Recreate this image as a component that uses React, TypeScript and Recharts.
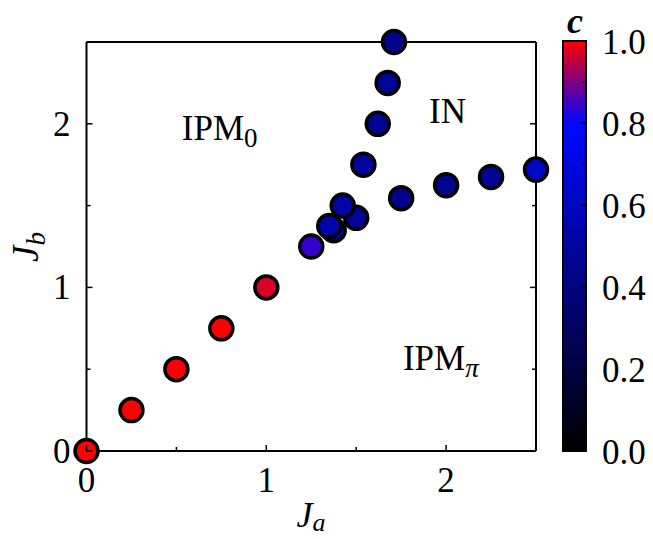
import React from "react";
import { ScatterChart, Scatter, XAxis, YAxis, ReferenceDot } from "recharts";

// phase points: J_a, J_b and the colour value c
const jaValues = [0, 0.25, 0.5, 0.75, 1, 1.25, 1.375, 1.35, 1.5, 1.425, 1.54, 1.62, 1.675, 1.71, 1.75, 2, 2.25, 2.5];
const jbValues = [0, 0.25, 0.5, 0.75, 1, 1.25, 1.35, 1.375, 1.425, 1.5, 1.75, 2, 2.25, 2.5, 1.545, 1.625, 1.675, 1.72];
const cValues = [1, 1, 1, 1, 0.97, 0.84, 0.52, 0.53, 0.48, 0.52, 0.5, 0.46, 0.46, 0.44, 0.44, 0.45, 0.47, 0.62];

const axisTicks = [0, 0.5, 1, 1.5, 2, 2.5];
const barTicks = [0, 0.1, 0.2, 0.3, 0.4, 0.5, 0.6, 0.7, 0.8, 0.9, 1];
const barLabels = ["0.0", "0.2", "0.4", "0.6", "0.8", "1.0"];

const data = jaValues.map((ja, i) => ({ ja, jb: jbValues[i], c: cValues[i] }));

const FONT = "Liberation Serif, DejaVu Serif, serif";
const W = 653;
const H = 539;

// black -> blue (0.8) -> red
function cmap(c: number) {
  if (c <= 0.8) return `rgb(0,${Math.round(10 * c)},${Math.round((255 * c) / 0.8)})`;
  const t = (c - 0.8) / 0.2;
  return `rgb(${Math.round(255 * t)},0,${Math.round(255 * (1 - t))})`;
}

const Dot = (props: any) => {
  const { cx, cy, payload } = props;
  return <circle cx={cx} cy={cy} r={11.5} fill={cmap(payload.c)} stroke="#000" strokeWidth={3.5} />;
};

const isMajor = (v: number) => Number.isInteger(v);
const txt = { fontFamily: FONT };

const BottomTick = ({ x, y, payload }: any) => (
  <g>
    <line x1={x} x2={x} y1={y} y2={y - (isMajor(payload.value) ? 6 : 4)} stroke="#000" strokeWidth={1.5} />
    {isMajor(payload.value) && (
      <text x={x} y={y + 41} textAnchor="middle" style={txt} fontSize={35} fill="#000">
        {payload.value}
      </text>
    )}
  </g>
);

const TopTick = ({ x, y, payload }: any) => (
  <line x1={x} x2={x} y1={y} y2={y + (isMajor(payload.value) ? 6 : 4)} stroke="#000" strokeWidth={1.5} />
);

const LeftTick = ({ x, y, payload }: any) => (
  <g>
    <line x1={x} x2={x + (isMajor(payload.value) ? 6 : 4)} y1={y} y2={y} stroke="#000" strokeWidth={1.5} />
    {isMajor(payload.value) && (
      <text x={x - 16} y={y + 12} textAnchor="end" style={txt} fontSize={35} fill="#000">
        {payload.value}
      </text>
    )}
  </g>
);

const RightTick = ({ x, y, payload }: any) => (
  <line x1={x} x2={x - (isMajor(payload.value) ? 6 : 4)} y1={y} y2={y} stroke="#000" strokeWidth={1.5} />
);

const RegionLabel = ({ cx, cy, main, sub, italicSub }: any) => (
  <text x={cx} y={cy} style={txt} fontSize={35} fill="#000">
    {main}
    {sub && (
      <tspan dy={7} fontSize={27} fontStyle={italicSub ? "italic" : "normal"}>
        {sub}
      </tspan>
    )}
  </text>
);

// colour bar geometry
const BAR_X = 563;
const BAR_Y = 41;
const BAR_W = 23;
const BAR_H = 410;
const barY = (c: number) => BAR_Y + (1 - c) * BAR_H;

function ColorBar() {
  return (
    <svg width={W} height={H} style={{ position: "absolute", left: 0, top: 0, pointerEvents: "none" }}>
      <defs>
        <linearGradient id="cgrad" x1="0" y1="1" x2="0" y2="0">
          <stop offset="0%" stopColor={cmap(0)} />
          <stop offset="80%" stopColor={cmap(0.8)} />
          <stop offset="90%" stopColor={cmap(0.9)} />
          <stop offset="100%" stopColor={cmap(1)} />
        </linearGradient>
      </defs>
      <rect x={BAR_X} y={BAR_Y} width={BAR_W} height={BAR_H} fill="url(#cgrad)" stroke="#000" strokeWidth={2} />
      {barTicks.map((t) => (
        <line
          key={t}
          x1={BAR_X + BAR_W}
          x2={BAR_X + BAR_W - (Math.round(t * 10) % 2 === 0 ? 5 : 3)}
          y1={barY(t)}
          y2={barY(t)}
          stroke="#000"
          strokeWidth={1.5}
        />
      ))}
      {barLabels.map((l) => (
        <text key={l} x={602} y={barY(Number(l)) + 13} style={txt} fontSize={35} fill="#000">
          {l}
        </text>
      ))}
      <text x={575} y={33} textAnchor="middle" style={txt} fontSize={36} fontStyle="italic" fontWeight="bold" fill="#000">
        c
      </text>
      {/* axis titles */}
      <text x={311} y={527} textAnchor="middle" style={txt} fontSize={36} fontStyle="italic" fill="#000">
        J<tspan dy={4} fontSize={26}>a</tspan>
      </text>
      <text transform="translate(38,247) rotate(-90)" textAnchor="middle" style={txt} fontSize={37} fontStyle="italic" fill="#000">
        J<tspan dy={7} fontSize={27}>b</tspan>
      </text>
    </svg>
  );
}

export default function App() {
  return (
    <div style={{ position: "absolute", left: 0, top: 0, width: W, height: H, background: "#fff" }}>
      <ScatterChart width={W} height={H} margin={{ top: 41, right: 116, bottom: 87, left: 85.5 }}>
        <XAxis
          dataKey="ja"
          type="number"
          domain={[0, 2.5]}
          ticks={axisTicks}
          interval={0}
          height={1}
          tickSize={0}
          tickMargin={0}
          tickLine={false}
          axisLine={{ stroke: "#000", strokeWidth: 2 }}
          tick={BottomTick}
        />
        <YAxis
          dataKey="jb"
          type="number"
          domain={[0, 2.5]}
          ticks={axisTicks}
          interval={0}
          width={1}
          tickSize={0}
          tickMargin={0}
          tickLine={false}
          axisLine={{ stroke: "#000", strokeWidth: 2 }}
          tick={LeftTick}
        />
        <XAxis
          xAxisId="top"
          orientation="top"
          type="number"
          domain={[0, 2.5]}
          allowDataOverflow
          ticks={axisTicks}
          interval={0}
          height={1}
          tickSize={0}
          tickMargin={0}
          tickLine={false}
          axisLine={{ stroke: "#000", strokeWidth: 2 }}
          tick={TopTick}
        />
        <YAxis
          yAxisId="right"
          orientation="right"
          type="number"
          domain={[0, 2.5]}
          allowDataOverflow
          ticks={axisTicks}
          interval={0}
          width={1}
          tickSize={0}
          tickMargin={0}
          tickLine={false}
          axisLine={{ stroke: "#000", strokeWidth: 2 }}
          tick={RightTick}
        />
        <Scatter data={data} isAnimationActive={false} shape={Dot} />
        <ReferenceDot x={0.53} y={1.9} r={0} shape={(p: any) => <RegionLabel {...p} main="IPM" sub="0" />} />
        <ReferenceDot x={1.905} y={2.005} r={0} shape={(p: any) => <RegionLabel {...p} main="IN" />} />
        <ReferenceDot x={1.76} y={0.495} r={0} shape={(p: any) => <RegionLabel {...p} main="IPM" sub="π" italicSub />} />
      </ScatterChart>
      <ColorBar />
    </div>
  );
}
